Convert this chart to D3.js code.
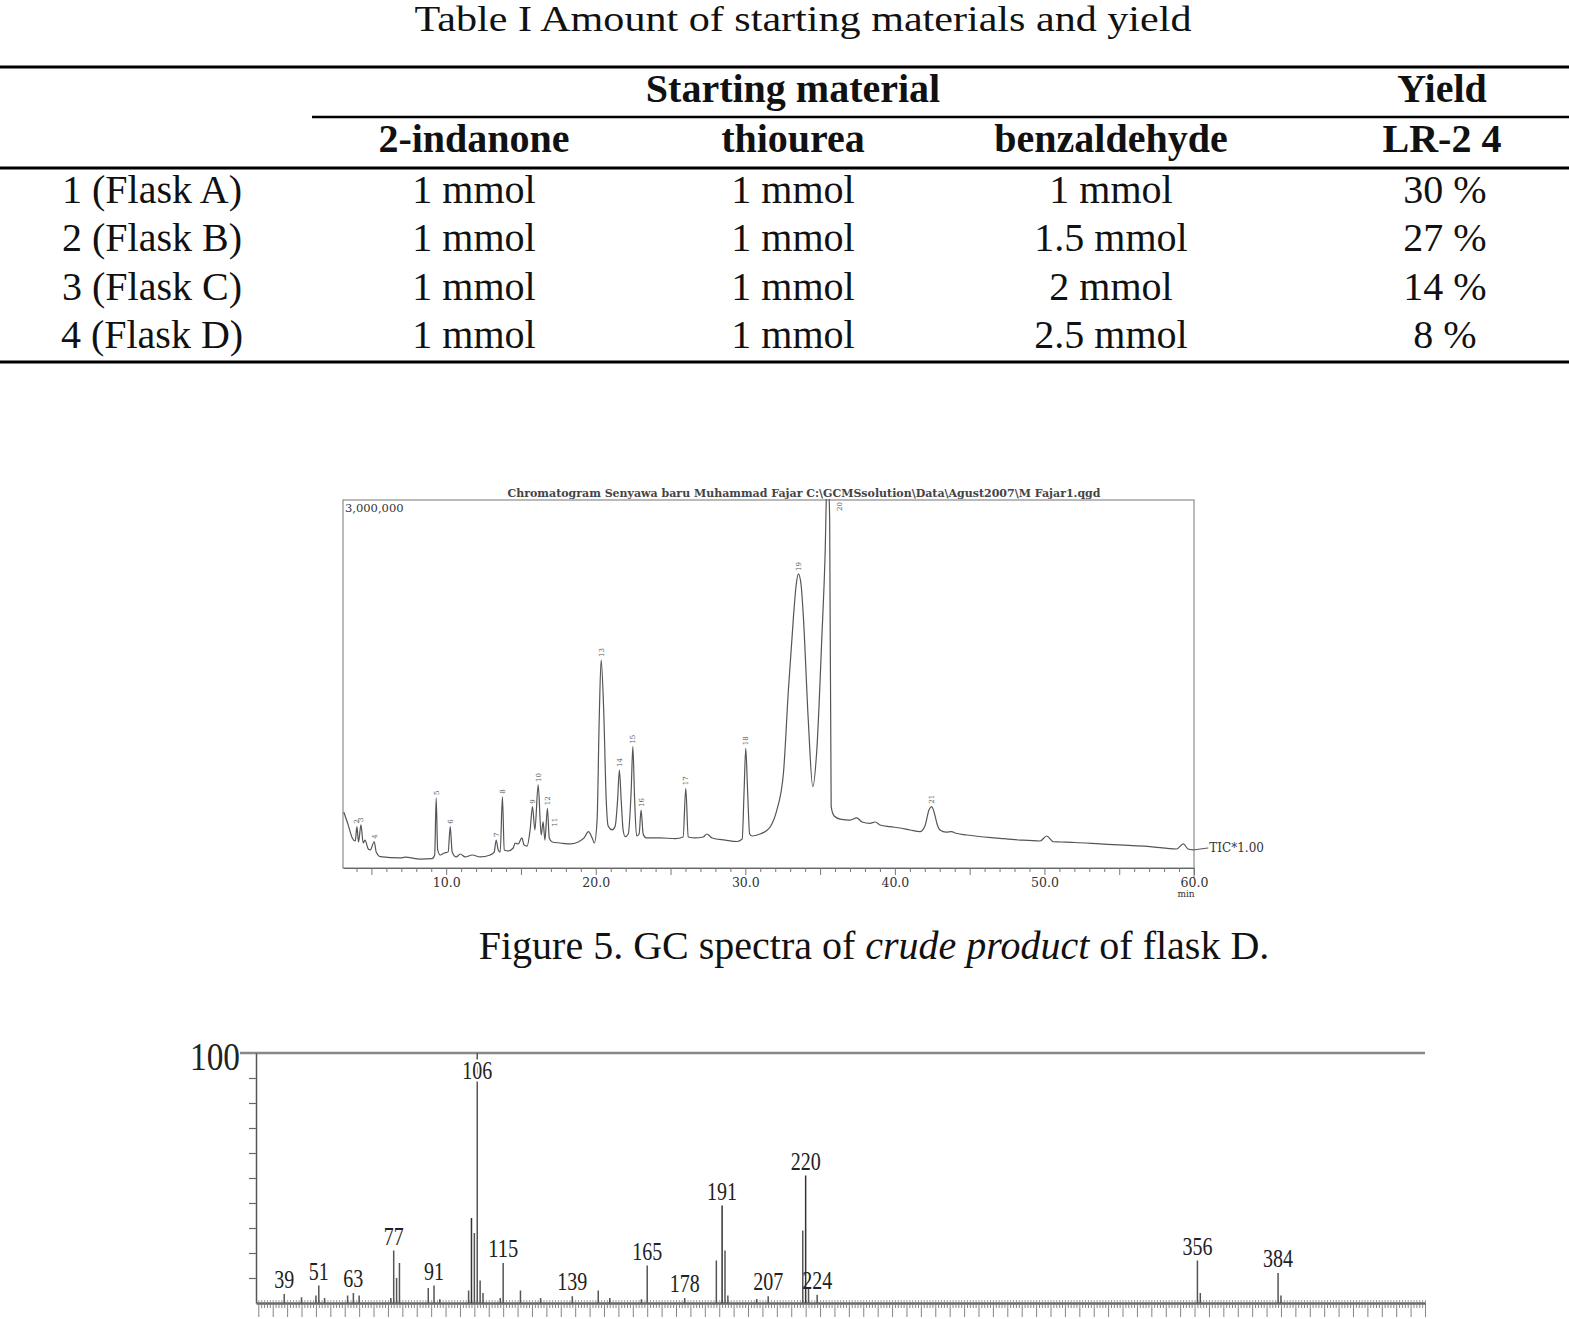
<!DOCTYPE html>
<html>
<head>
<meta charset="utf-8">
<script src="https://cdn.jsdelivr.net/npm/d3@7"></script>
<style>
  body { margin: 0; background: #fff; }
  svg { display: block; }
</style>
</head>
<body>
<svg id="fig" width="1569" height="1319"></svg>
<script>
// ---------- Table I ----------
const tableTitle = "Table I Amount of starting materials and yield";
const groupHeaders = ["Starting material", "Yield"];
const colHeaders = ["2-indanone", "thiourea", "benzaldehyde", "LR-2 4"];
const rowLabels = ["1 (Flask A)", "2 (Flask B)", "3 (Flask C)", "4 (Flask D)"];
const indanone = ["1 mmol", "1 mmol", "1 mmol", "1 mmol"];
const thiourea = ["1 mmol", "1 mmol", "1 mmol", "1 mmol"];
const benzaldehyde = ["1 mmol", "1.5 mmol", "2 mmol", "2.5 mmol"];
const yields = ["30 %", "27 %", "14 %", "8 %"];

// ---------- GC chromatogram (time in min, TIC in thousands of counts) ----------
const gcTitle = "Chromatogram Senyawa baru Muhammad Fajar C:\\GCMSsolution\\Data\\Agust2007\\M Fajar1.qgd";
const gcTrace = [
  [3.15,457],[3.45,350],[3.72,245],[3.92,220],[4.03,337],[4.14,212],[4.30,351],[4.45,204],
  [4.57,228],[4.79,155],[4.92,147],[5.19,214],[5.32,130],[5.59,92],[6.93,82],[7.25,88],
  [8.26,73],[9.06,77],[9.23,106],[9.33,571],[9.43,147],[9.60,106],[9.87,122],[10.13,130],
  [10.27,337],[10.40,130],[10.67,90],[10.94,114],[11.27,90],[11.74,106],[12.27,90],[12.94,106],
  [13.21,130],[13.34,228],[13.48,147],[13.61,130],[13.76,581],[13.88,147],[14.14,139],[14.48,163],
  [14.61,204],[14.81,196],[15.06,245],[15.21,187],[15.41,179],[15.61,310],[15.77,500],[15.93,310],
  [16.15,677],[16.35,269],[16.48,377],[16.60,228],[16.77,487],[16.89,245],[17.09,212],[17.62,204],
  [18.29,196],[18.82,212],[19.22,245],[19.51,296],[19.76,245],[19.91,204],[20.09,391],[20.23,1206],
  [20.36,1696],[20.53,1288],[20.70,554],[20.83,342],[21.10,310],[21.30,342],[21.46,554],[21.58,799],
  [21.70,554],[21.83,310],[21.97,255],[22.17,277],[22.37,636],[22.48,989],[22.60,554],[22.73,261],
  [22.90,277],[23.03,473],[23.17,277],[23.37,245],[24.30,245],[25.31,240],[25.84,253],[26.02,650],
  [26.18,253],[26.64,245],[27.18,253],[27.43,277],[27.78,245],[28.65,228],[29.45,216],[29.79,236],
  [29.92,636],[30.03,976],[30.15,636],[30.29,277],[30.45,261],[30.99,277],[31.39,302],[31.66,334],
  [32.11,473],[32.55,774],[32.88,1451],[33.22,2049],[33.40,2307],[33.55,2397],[33.73,2307],[33.88,2049],
  [34.22,1180],[34.51,663],[34.78,962],[35.11,1859],[35.33,2538],[35.49,3300],[35.64,2837],[35.74,500],
  [35.94,424],[36.34,399],[37.01,391],[37.45,408],[37.81,375],[38.34,364],[38.68,375],[39.01,351],
  [39.68,337],[40.35,326],[41.02,310],[41.68,296],[42.01,342],[42.28,473],[42.46,500],[42.62,456],
  [42.82,359],[43.02,310],[43.42,293],[43.80,297],[44.02,285],[44.81,269],[47.03,242],[48.37,228],
  [49.71,220],[50.15,261],[50.60,214],[51.04,212],[52.05,208],[53.72,196],[57.06,174],[58.84,155],
  [59.29,196],[59.60,155],[59.95,147]
];
const gcPeakNo = [2, 3, 4, 5, 6, 7, 8, 9, 10, 11, 12, 13, 14, 15, 16, 17, 18, 19, 20, 21];
const gcPeakTime = [4.03, 4.30, 5.19, 9.33, 10.27, 13.34, 13.76, 15.77, 16.15, 16.48, 16.77,
                    20.36, 21.58, 22.48, 23.03, 26.02, 30.03, 33.55, 35.49, 42.46];
const gcYMaxLabel = "3,000,000";
const gcTraceLabel = "TIC*1.00";

// ---------- Mass spectrum (m/z, relative intensity %) ----------
const msPeaks = [
  [39,3.6],[45,2.3],[50,3],[51,7],[53,2],[61,3],[63,4],[65,3],[76,2],[77,21],[78,10],[79,16],
  [89,6],[91,7],[93,1.5],[103,5],[104,34],[105,28],[106,100],[107,9],[108,4],[114,2],[115,16],
  [121,5],[128,2],[139,2.7],[148,5],[152,2],[163,1.5],[165,15],[178,2],[189,17],[191,39],[192,21],
  [193,3],[203,1.6],[207,2.7],[219,29],[220,51],[221,6],[224,3.3],[356,17],[357,4],[384,12],[385,3]
];
const msLabels = [39, 51, 63, 77, 91, 106, 115, 139, 165, 178, 191, 207, 220, 224, 356, 384];

const svg = d3.select("#fig");
svg.append("rect").attr("width", 1569).attr("height", 1319).attr("fill", "#fff");

// ================= TABLE =================
const serif = "'Liberation Serif', 'Times New Roman', serif";
const tbl = svg.append("g").attr("font-family", serif).attr("font-size", 40).attr("fill", "#111");

tbl.append("text").attr("x", 803).attr("y", 31).attr("text-anchor", "middle")
  .attr("font-size", 36)
  .attr("textLength", 777).attr("lengthAdjust", "spacingAndGlyphs").text(tableTitle);

const rules = [[0, 67, 3], [312, 117, 2.5], [0, 168, 3], [0, 362, 3]];
tbl.selectAll("line.rule").data(rules).enter().append("line")
  .attr("x1", d => d[0]).attr("x2", 1569).attr("y1", d => d[1]).attr("y2", d => d[1])
  .attr("stroke", "#000").attr("stroke-width", d => d[2]);

const groupX = [793, 1442];
tbl.selectAll("text.grp").data(groupHeaders).enter().append("text")
  .attr("x", (d, i) => groupX[i]).attr("y", 102).attr("text-anchor", "middle")
  .attr("font-weight", "bold").text(d => d);

const colX = [152, 474, 793, 1111, 1442];
tbl.selectAll("text.hdr").data(colHeaders).enter().append("text")
  .attr("x", (d, i) => colX[i + 1]).attr("y", 152).attr("text-anchor", "middle")
  .attr("font-weight", "bold").text(d => d);

const rowY = d3.scalePoint().domain(rowLabels).range([203, 348]);
const columns = [rowLabels, indanone, thiourea, benzaldehyde, yields];
columns.forEach((col, ci) => {
  tbl.append("g").selectAll("text").data(col).enter().append("text")
    .attr("x", colX[ci] + (ci === 4 ? 3 : 0))
    .attr("y", (d, i) => rowY(rowLabels[i]))
    .attr("text-anchor", "middle").text(d => d);
});

// ================= GC CHROMATOGRAM =================
const gcX = d3.scaleLinear().domain([3.1, 60]).range([343, 1194]);
const gcY = d3.scaleLinear().domain([0, 3000]).range([868, 500]);
const gcFont = "'DejaVu Serif', serif";
const gc = svg.append("g").attr("font-family", gcFont).attr("fill", "#333");

gc.append("text").attr("x", 804).attr("y", 497).attr("text-anchor", "middle")
  .attr("font-size", 11).attr("font-weight", "bold").attr("fill", "#444").text(gcTitle);

gc.append("rect").attr("x", gcX(3.1)).attr("y", gcY(3000))
  .attr("width", gcX(60) - gcX(3.1)).attr("height", gcY(0) - gcY(3000))
  .attr("fill", "none").attr("stroke", "#777").attr("stroke-width", 1);
gc.append("line").attr("x1", gcX(60)).attr("x2", gcX(60)).attr("y1", gcY(0)).attr("y2", gcY(0) + 10)
  .attr("stroke", "#777");

gc.append("text").attr("x", gcX(3.1) + 2).attr("y", 512).attr("font-size", 11.5)
  .attr("fill", "#333").text(gcYMaxLabel);

const gcAxis = d3.axisBottom(gcX).tickValues(d3.range(4, 61)).tickSize(4).tickSizeOuter(0)
  .tickFormat(d => d % 10 === 0 ? d.toFixed(1) : "");
const gAx = gc.append("g").attr("transform", `translate(0,${gcY(0)})`).call(gcAxis);
gAx.select(".domain").attr("stroke", "#666");
gAx.selectAll(".tick line").attr("stroke", "#777").attr("y2", d => d % 5 === 0 ? 7 : 4);
gAx.selectAll(".tick text").attr("font-family", gcFont).attr("font-size", 12.5)
  .attr("fill", "#333").attr("y", 10);
gc.append("text").attr("x", gcX(60) - 8).attr("y", 897).attr("text-anchor", "middle")
  .attr("font-size", 9).text("min");

svg.append("clipPath").attr("id", "gcClip").append("rect")
  .attr("x", gcX(3.1)).attr("y", gcY(3000) - 1)
  .attr("width", gcX(60) - gcX(3.1)).attr("height", gcY(0) - gcY(3000) + 1);

const gcLine = d3.line().x(d => gcX(d[0])).y(d => gcY(d[1])).curve(d3.curveMonotoneX);
gc.append("path").datum(gcTrace).attr("clip-path", "url(#gcClip)")
  .attr("d", gcLine).attr("fill", "none").attr("stroke", "#555").attr("stroke-width", 1.2);

// connector to trace label
const lastPt = gcTrace[gcTrace.length - 1];
gc.append("line").attr("x1", gcX(lastPt[0])).attr("y1", gcY(lastPt[1]))
  .attr("x2", gcX(lastPt[0]) + 15).attr("y2", gcY(lastPt[1]) - 2)
  .attr("stroke", "#555").attr("stroke-width", 1);
gc.append("text").attr("x", gcX(lastPt[0]) + 16).attr("y", gcY(lastPt[1]) + 2)
  .attr("font-size", 12).attr("fill", "#333").text(gcTraceLabel);

// peak numbers (rotated)
const labelNudge = { 11: [11, 8], 20: [12, 0] };
const peakLabels = gcPeakNo.map((n, i) => {
  const pt = d3.least(gcTrace, p => Math.abs(p[0] - gcPeakTime[i]));
  const nudge = labelNudge[n] || [0, 0];
  const apexY = Math.max(gcY(pt[1]), gcY(3000) + 14);
  return { n, x: gcX(pt[0]) + 2.5 + nudge[0], y: apexY - 3 + nudge[1] };
});
gc.selectAll("text.pk").data(peakLabels).enter().append("text")
  .attr("transform", d => `translate(${d.x},${d.y}) rotate(-90)`)
  .attr("font-size", 7).attr("fill", "#555").text(d => d.n);

// caption
const cap = svg.append("text").attr("x", 874).attr("y", 959).attr("text-anchor", "middle")
  .attr("font-family", serif).attr("font-size", 40).attr("fill", "#111");
cap.append("tspan").text("Figure 5. GC spectra of ");
cap.append("tspan").attr("font-style", "italic").text("crude product");
cap.append("tspan").text(" of flask D.");

// ================= MASS SPECTRUM =================
const msX = d3.scaleLinear().domain([29.2, 435]).range([256, 1425]);
const msY = d3.scaleLinear().domain([0, 100]).range([1303, 1053]);
const ms = svg.append("g").attr("font-family", serif).attr("fill", "#222");

ms.append("line").attr("x1", 240).attr("x2", msX(435)).attr("y1", msY(100)).attr("y2", msY(100))
  .attr("stroke", "#888").attr("stroke-width", 2.5);
ms.append("text").attr("x", 215).attr("y", 1070).attr("text-anchor", "middle")
  .attr("font-size", 40).attr("textLength", 50).attr("lengthAdjust", "spacingAndGlyphs").text("100");

const msLeft = d3.axisLeft(msY).tickValues(d3.range(10, 100, 10)).tickSize(7).tickSizeOuter(0).tickFormat("");
const gL = ms.append("g").attr("transform", `translate(${msX(29.2)},0)`).call(msLeft);
gL.select(".domain").attr("stroke", "#555").attr("stroke-width", 1.5);
gL.selectAll(".tick line").attr("stroke", "#666").attr("stroke-width", 1.2);

// ruler along the m/z axis
const mzTicks = d3.range(30, 436);
const gB = ms.append("g").attr("transform", `translate(0,${msY(0)})`)
  .call(d3.axisBottom(msX).tickValues(mzTicks).tickSize(5).tickSizeOuter(0).tickFormat(""));
gB.select(".domain").attr("stroke", "#666").attr("stroke-width", 2.5);
gB.selectAll(".tick line").attr("stroke", "#777").attr("stroke-width", 0.9)
  .attr("y2", d => d % 5 === 0 ? 14 : 5);
const gT = ms.append("g").attr("transform", `translate(0,${msY(0)})`)
  .call(d3.axisTop(msX).tickValues(mzTicks).tickSize(3).tickSizeOuter(0).tickFormat(""));
gT.select(".domain").remove();
gT.selectAll(".tick line").attr("stroke", "#888").attr("stroke-width", 0.8);

ms.selectAll("line.peak").data(msPeaks).enter().append("line")
  .attr("x1", d => msX(d[0])).attr("x2", d => msX(d[0]))
  .attr("y1", msY(0)).attr("y2", d => msY(d[1]))
  .attr("stroke", d => d[1] > 30 && d[0] !== 106 ? "#333" : "#555")
  .attr("stroke-width", 1.5);

const pctOf = mz => (msPeaks.find(p => p[0] === mz) || [mz, 0])[1];
ms.selectAll("text.ml").data(msLabels).enter().append("text")
  .attr("transform", d => `translate(${msX(d)},${Math.max(msY(pctOf(d)) - 6, msY(90) + 1)})`)
  .attr("text-anchor", "middle").attr("font-size", 25)
  .attr("textLength", d => String(d).length * 10).attr("lengthAdjust", "spacingAndGlyphs")
  .attr("stroke", d => pctOf(d) >= 90 ? "#fff" : "none").attr("stroke-width", 5)
  .attr("paint-order", "stroke")
  .text(d => d);
</script>
</body>
</html>
